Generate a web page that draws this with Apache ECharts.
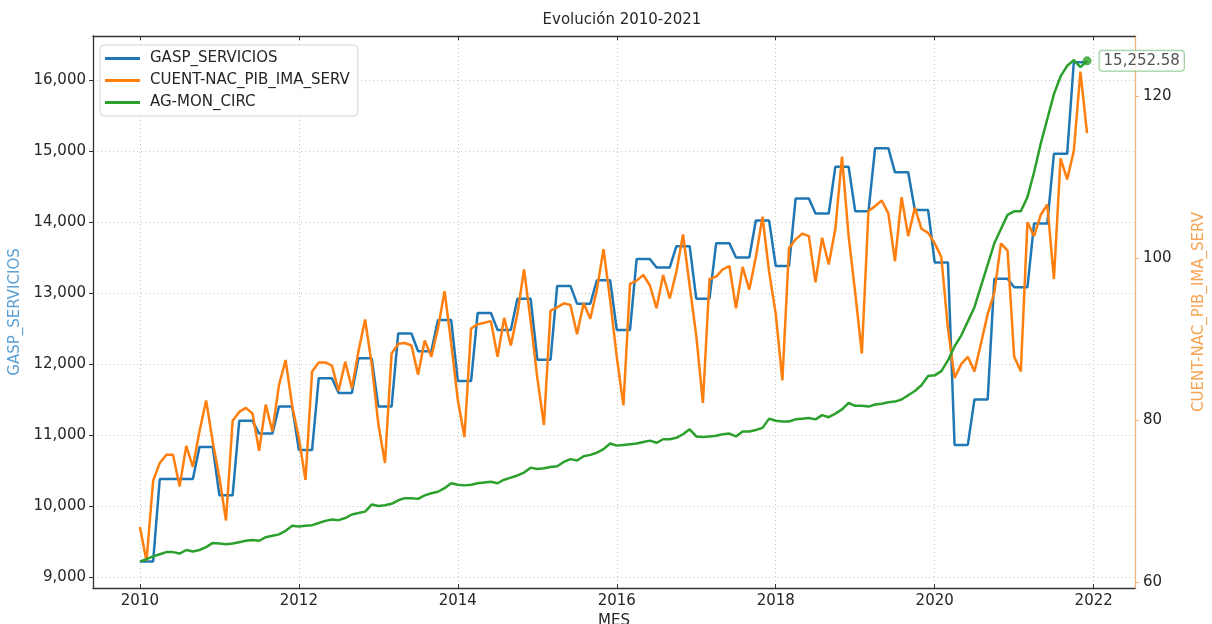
<!DOCTYPE html>
<html>
<head>
<meta charset="utf-8">
<script src="https://cdn.jsdelivr.net/npm/echarts@6/dist/echarts.min.js"></script>
<style>
  html, body { margin: 0; padding: 0; background: #ffffff; }
  #chart { width: 1212px; height: 624px; }
</style>
</head>
<body>
<div id="chart"></div>
<script>
// Years covered (monthly observations, January to December)
const years = [2010, 2011, 2012, 2013, 2014, 2015, 2016, 2017, 2018, 2019, 2020, 2021];

// GASP_SERVICIOS: quarterly values (Q1..Q4 per year), repeated over each quarter's months
const gaspQuarterly = [
  9220, 10380, 10380, 10830,
  10150, 11200, 11020, 11400,
  10790, 11800, 11590, 12080,
  11400, 12430, 12180, 12620,
  11760, 12720, 12480, 12920,
  12060, 13100, 12850, 13180,
  12480, 13480, 13360, 13660,
  12920, 13700, 13500, 14020,
  13380, 14330, 14120, 14780,
  14150, 15040, 14700, 14170,
  13430, 10860, 11500, 13200,
  13080, 13980, 14960, 16250
];

// CUENT-NAC_PIB_IMA_SERV: monthly index (right axis)
const pibServ = [
  66.8, 62.6, 72.5, 74.7, 75.7, 75.7, 71.8, 76.8, 74.2, 78.6, 82.4, 77.3,
  72.9, 67.6, 79.9, 81.0, 81.5, 80.8, 76.2, 81.9, 78.6, 84.3, 87.4, 81.7,
  77.8, 72.6, 86.0, 87.1, 87.1, 86.7, 83.6, 87.2, 83.9, 88.5, 92.4, 86.9,
  79.5, 74.7, 88.2, 89.4, 89.5, 89.2, 85.6, 89.8, 87.8, 91.3, 95.9, 89.5,
  82.5, 77.9, 91.3, 91.8, 92.0, 92.2, 87.8, 92.6, 89.2, 93.1, 98.6, 92.2,
  85.2, 79.4, 93.5, 93.9, 94.4, 94.2, 90.6, 94.4, 92.5, 96.1, 101.1, 94.8,
  87.8, 81.8, 96.8, 97.2, 97.9, 96.6, 93.8, 97.9, 95.0, 98.3, 102.9, 96.6,
  90.4, 82.1, 97.4, 97.7, 98.6, 99.0, 93.8, 98.9, 96.1, 100.1, 105.1, 98.3,
  93.1, 84.9, 101.2, 102.3, 103.0, 102.7, 97.0, 102.5, 99.2, 103.6, 112.5, 102.7,
  95.7, 88.2, 105.8, 106.4, 107.1, 105.5, 99.6, 107.5, 102.7, 106.2, 103.6, 103.1,
  101.8, 100.1, 91.3, 85.2, 86.9, 87.8, 86.0, 89.5, 93.1, 95.7, 101.8, 100.9,
  87.8, 86.0, 104.4, 102.7, 105.3, 106.6, 97.4, 112.3, 109.7, 113.2, 123.0, 115.4
];

// AG-MON_CIRC: monthly values (own scale, drawn against a hidden axis)
const monCirc = [
  8203, 8233, 8273, 8303, 8333, 8333, 8313, 8363, 8343, 8363, 8403, 8463,
  8453, 8443, 8453, 8473, 8493, 8503, 8493, 8543, 8563, 8583, 8633, 8703,
  8693, 8703, 8713, 8743, 8773, 8793, 8783, 8813, 8863, 8883, 8903, 9003,
  8983, 8993, 9013, 9063, 9093, 9093, 9083, 9133, 9163, 9183, 9233, 9303,
  9283, 9273, 9283, 9303, 9313, 9323, 9303, 9353, 9383, 9413, 9453, 9523,
  9503, 9513, 9533, 9543, 9603, 9643, 9623, 9683, 9703, 9733, 9783, 9863,
  9833, 9843, 9853, 9863, 9883, 9903, 9873, 9923, 9923, 9943, 9993, 10063,
  9963, 9953, 9963, 9973, 9993, 10003, 9963, 10033, 10033, 10053, 10083, 10213,
  10183, 10173, 10173, 10203, 10213, 10223, 10203, 10263, 10233, 10283, 10343, 10433,
  10393, 10393, 10383, 10413, 10423, 10443, 10453, 10483, 10543, 10603, 10683, 10813,
  10823, 10883, 11033, 11233, 11383, 11583, 11783, 12083, 12383, 12683, 12883, 13083,
  13133, 13133, 13333, 13683, 14083, 14433, 14783, 15033, 15183, 15263, 15163, 15252.58
];

// Tick labels
const xTicks = [2010, 2012, 2014, 2016, 2018, 2020, 2022];
const leftTicks = [9000, 10000, 11000, 12000, 13000, 14000, 15000, 16000];
const rightTicks = [60, 80, 100, 120];

const FONT = 'DejaVu Sans';
const FS = 15;
const C_BLUE = '#1f77b4', C_ORANGE = '#ff7f0e', C_GREEN = '#2ca02c';
const C_TEXT = '#262626', C_SPINE = '#333333';

// Decimal-year position of every month
const monthX = [];
years.forEach(y => { for (let m = 0; m < 12; m++) monthX.push(y + m / 12); });

const gaspData = monthX.map((x, i) => [x, gaspQuarterly[Math.floor(i / 3)]]);
const pibData = monthX.map((x, i) => [x, pibServ[i]]);
const monData = monthX.map((x, i) => [x, monCirc[i]]);
const lastMon = monData[monData.length - 1];

const fmtThousands = v => Number(v).toLocaleString('en-US');
const gridDots = { type: [1, 3], color: '#c4c4c4', width: 1 };

const chart = echarts.init(document.getElementById('chart'), null, { renderer: 'canvas' });

chart.setOption({
  animation: false,
  backgroundColor: '#ffffff',
  textStyle: { fontFamily: FONT },
  title: {
    text: 'Evolución 2010-2021',
    left: 617, top: 8, textAlign: 'center',
    textStyle: { fontFamily: FONT, fontSize: FS, fontWeight: 'normal', color: C_TEXT }
  },
  grid: { left: 93, right: 77, top: 36, bottom: 36, containLabel: false, outerBoundsMode: 'none' },
  legend: {
    data: ['GASP_SERVICIOS', 'CUENT-NAC_PIB_IMA_SERV', 'AG-MON_CIRC'],
    orient: 'vertical', left: 100, top: 45,
    icon: 'rect', itemWidth: 35, itemHeight: 3, itemGap: 7,
    padding: [6, 8, 6, 5],
    backgroundColor: 'rgba(255,255,255,0.85)',
    borderColor: '#d6d6d6', borderWidth: 1, borderRadius: 4,
    textStyle: { fontFamily: FONT, fontSize: FS, color: C_TEXT, padding: [0, 0, 0, 5] }
  },
  xAxis: [
    {
      type: 'value', position: 'bottom', min: 2009.41, max: 2022.52,
      name: 'MES', nameLocation: 'middle', nameGap: 25,
      nameTextStyle: { fontFamily: FONT, fontSize: FS, color: C_TEXT },
      axisLine: { show: true, onZero: false, lineStyle: { color: C_SPINE, width: 1.3 } },
      axisTick: { show: true, inside: true, length: 4, customValues: xTicks, lineStyle: { color: C_SPINE } },
      axisLabel: { customValues: xTicks, formatter: v => String(v), margin: 6,
                   fontFamily: FONT, fontSize: FS, color: C_TEXT },
      splitLine: { show: true, lineStyle: gridDots }
    },
    {
      type: 'value', position: 'top', min: 2009.41, max: 2022.52,
      axisLine: { show: true, onZero: false, lineStyle: { color: C_SPINE, width: 1.3 } },
      axisTick: { show: true, inside: true, length: 4, customValues: xTicks, lineStyle: { color: C_SPINE } },
      axisLabel: { show: false },
      splitLine: { show: false }
    }
  ],
  yAxis: [
    {
      type: 'value', position: 'left', min: 8845, max: 16620,
      name: 'GASP_SERVICIOS', nameLocation: 'middle', nameGap: 67, nameRotate: 90,
      nameTextStyle: { fontFamily: FONT, fontSize: FS, color: '#5b9fd3' },
      axisLine: { show: true, onZero: false, lineStyle: { color: C_SPINE, width: 1.3 } },
      axisTick: { show: true, inside: false, length: 4, customValues: leftTicks, lineStyle: { color: C_SPINE } },
      axisLabel: { customValues: leftTicks, formatter: fmtThousands, margin: 7,
                   fontFamily: FONT, fontSize: FS, color: C_TEXT },
      splitLine: { show: true, lineStyle: gridDots }
    },
    {
      type: 'value', position: 'right', min: 59.26, max: 127.4,
      name: 'CUENT-NAC_PIB_IMA_SERV', nameLocation: 'middle', nameGap: 57, nameRotate: 90,
      nameTextStyle: { fontFamily: FONT, fontSize: FS, color: '#f5a454' },
      axisLine: { show: true, onZero: false, lineStyle: { color: '#f2b27a', width: 1.3 } },
      axisTick: { show: true, inside: false, length: 4, customValues: rightTicks, lineStyle: { color: '#f2b27a' } },
      axisLabel: { customValues: rightTicks, margin: 8,
                   fontFamily: FONT, fontSize: FS, color: C_TEXT },
      splitLine: { show: false }
    },
    {
      type: 'value', show: false, min: 7827.58, max: 15602.58,
      splitLine: { show: false }
    }
  ],
  series: [
    {
      name: 'GASP_SERVICIOS', type: 'line', xAxisIndex: 0, yAxisIndex: 0,
      data: gaspData, symbol: 'none', color: C_BLUE,
      lineStyle: { width: 2.5, color: C_BLUE }, z: 3
    },
    {
      name: 'CUENT-NAC_PIB_IMA_SERV', type: 'line', xAxisIndex: 0, yAxisIndex: 1,
      data: pibData, symbol: 'none', color: C_ORANGE,
      lineStyle: { width: 2.5, color: C_ORANGE }, z: 4
    },
    {
      name: 'AG-MON_CIRC', type: 'line', xAxisIndex: 0, yAxisIndex: 2,
      data: monData, symbol: 'none', color: C_GREEN,
      lineStyle: { width: 2.5, color: C_GREEN }, z: 5
    },
    {
      name: 'ultimo', type: 'scatter', xAxisIndex: 0, yAxisIndex: 2,
      data: [lastMon], symbol: 'circle', symbolSize: 9, color: C_GREEN, z: 6,
      label: {
        show: true, position: 'right', distance: 8,
        formatter: p => Number(p.value[1]).toLocaleString('en-US', { minimumFractionDigits: 2, maximumFractionDigits: 2 }),
        fontFamily: FONT, fontSize: FS, color: C_TEXT,
        backgroundColor: '#ffffff', borderColor: '#7cbf7c', borderWidth: 1, borderRadius: 3,
        padding: [3, 4, 2, 4]
      }
    }
  ]
});
</script>
</body>
</html>
